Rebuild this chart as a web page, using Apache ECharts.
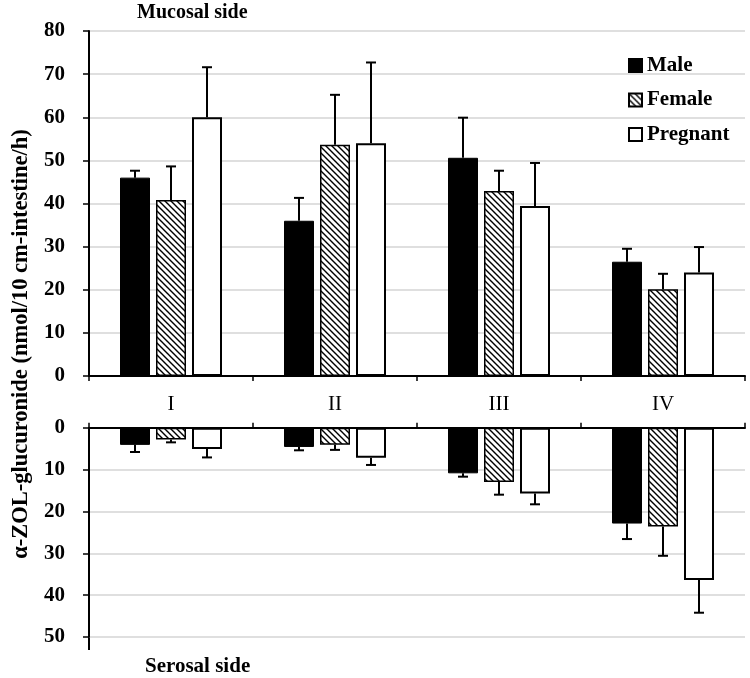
<!DOCTYPE html>
<html><head><meta charset="utf-8">
<script src="https://cdn.jsdelivr.net/npm/echarts@6/dist/echarts.min.js"></script>
<style>html,body{margin:0;padding:0;background:#fff;}#c{width:750px;height:678px;}</style>
</head><body><div id="c"></div>
<script>
const categories = ['I', 'II', 'III', 'IV'];
const seriesNames = ['Male', 'Female', 'Pregnant'];
// Mucosal side (upper panel): means and SD
const mucosalMale = [46.0, 36.0, 50.6, 26.5];
const mucosalMaleSD = [1.6, 5.3, 9.3, 3.0];
const mucosalFemale = [40.8, 53.6, 42.9, 20.1];
const mucosalFemaleSD = [7.8, 11.6, 4.7, 3.6];
const mucosalPregnant = [60.0, 54.0, 39.4, 24.0];
const mucosalPregnantSD = [11.6, 18.7, 10.0, 5.9];
// Serosal side (lower panel): means and SD
const serosalMale = [4.1, 4.6, 10.9, 22.9];
const serosalMaleSD = [1.7, 0.8, 0.8, 3.7];
const serosalFemale = [2.8, 4.1, 13.0, 23.6];
const serosalFemaleSD = [0.7, 1.2, 3.0, 7.0];
const serosalPregnant = [5.1, 7.2, 15.7, 36.4];
const serosalPregnantSD = [2.0, 1.7, 2.6, 7.8];
const mucosalTicks = [0, 10, 20, 30, 40, 50, 60, 70, 80];
const serosalTicks = [0, 10, 20, 30, 40, 50];

const FONT = '"Liberation Serif", "DejaVu Serif", serif';

function hatch() {
  const s = 6;
  const c = document.createElement('canvas');
  c.width = s; c.height = s;
  const g = c.getContext('2d');
  g.fillStyle = '#fff'; g.fillRect(0, 0, s, s);
  g.strokeStyle = '#000'; g.lineWidth = 1.4;
  g.beginPath();
  g.moveTo(-1, -1); g.lineTo(s + 1, s + 1);
  g.moveTo(-1, s - 1); g.lineTo(1, s + 1);
  g.moveTo(s - 1, -1); g.lineTo(s + 1, 1);
  g.stroke();
  return c;
}
const hatchPattern = { image: hatch(), repeat: 'repeat' };

const styles = [
  { color: '#000', borderColor: '#000', borderWidth: 1 },
  { color: hatchPattern, borderColor: '#000', borderWidth: 1.5 },
  { color: '#fff', borderColor: '#000', borderWidth: 2 }
];

const BAR_W = 30, STEP = 36;

function barSeries(name, idx, data, grid) {
  return {
    name: grid === 0 ? name : undefined,
    type: 'bar', xAxisIndex: grid, yAxisIndex: grid,
    data: data, barWidth: BAR_W, barGap: '20%',
    itemStyle: styles[idx], z: 2, animation: false
  };
}
function errSeries(idx, means, sds, grid) {
  return {
    type: 'custom', xAxisIndex: grid, yAxisIndex: grid, z: 3, animation: false,
    data: means.map((m, i) => [i, m, m + sds[i]]),
    renderItem: function (params, api) {
      const base = api.coord([api.value(0), api.value(1)]);
      const top = api.coord([api.value(0), api.value(2)]);
      const x = base[0] + (idx - 1) * STEP;
      const hw = 5;
      return {
        type: 'group',
        children: [
          { type: 'line', shape: { x1: x, y1: base[1], x2: x, y2: top[1] }, style: { stroke: '#000', lineWidth: 2 } },
          { type: 'line', shape: { x1: x - hw, y1: top[1], x2: x + hw, y2: top[1] }, style: { stroke: '#000', lineWidth: 2 } }
        ]
      };
    }
  };
}

const chart = echarts.init(document.getElementById('c'), null, { renderer: 'canvas' });
const axisLabelY = { fontFamily: FONT, fontWeight: 'bold', fontSize: 21, color: '#000', margin: 24 };
chart.setOption({
  backgroundColor: '#fff',
  animation: false,
  grid: [
    { left: 89, right: 5, top: 31, height: 345 },
    { left: 89, right: 5, top: 427.7, height: 209.3 }
  ],
  legend: {
    data: seriesNames, orient: 'vertical', left: 623, top: 50,
    itemWidth: 13, itemHeight: 13, itemGap: 13.5,
    textStyle: { fontFamily: FONT, fontWeight: 'bold', fontSize: 21, color: '#000', padding: [0, 0, 0, 0] },
    icon: 'rect'
  },
  xAxis: [
    { type: 'category', gridIndex: 0, data: categories, position: 'bottom',
      axisLine: { lineStyle: { color: '#000', width: 2 } },
      axisTick: { show: true, length: 5, lineStyle: { color: '#000', width: 1.5 } },
      axisLabel: { show: false }, splitLine: { show: false } },
    { type: 'category', gridIndex: 1, data: categories, position: 'top',
      axisLine: { lineStyle: { color: '#000', width: 2 } },
      axisTick: { show: true, length: 5, lineStyle: { color: '#000', width: 1.5 } },
      axisLabel: { fontFamily: FONT, fontSize: 21, color: '#000', margin: 13 }, splitLine: { show: false } }
  ],
  yAxis: [
    { type: 'value', gridIndex: 0, min: mucosalTicks[0], max: mucosalTicks[mucosalTicks.length - 1], interval: 10,
      axisLine: { show: true, lineStyle: { color: '#000', width: 2 } },
      axisTick: { show: true, length: 6, lineStyle: { color: '#000', width: 1.5 } },
      axisLabel: axisLabelY,
      splitLine: { lineStyle: { color: '#d4d4d4', width: 1.5 } } },
    { type: 'value', gridIndex: 1, inverse: true, min: serosalTicks[0], max: serosalTicks[serosalTicks.length - 1], interval: 10,
      axisLine: { show: true, lineStyle: { color: '#000', width: 2 } },
      axisTick: { show: true, length: 6, lineStyle: { color: '#000', width: 1.5 } },
      axisLabel: axisLabelY,
      splitLine: { lineStyle: { color: '#d4d4d4', width: 1.5 } } }
  ],
  graphic: [
    { type: 'text', x: 137, y: 13, style: { text: 'Mucosal side', fontFamily: FONT, fontWeight: 'bold', fontSize: 20, fill: '#000', verticalAlign: 'middle' } },
    { type: 'text', x: 145, y: 667, style: { text: 'Serosal side', fontFamily: FONT, fontWeight: 'bold', fontSize: 21, fill: '#000', verticalAlign: 'middle' } },
    { type: 'text', x: 21, y: 344, rotation: Math.PI / 2,
      style: { text: 'α-ZOL-glucuronide (nmol/10 cm-intestine/h)', fontFamily: FONT, fontWeight: 'bold', fontSize: 22.5, fill: '#000', align: 'center', verticalAlign: 'middle' } },
    { type: 'line', shape: { x1: 89, y1: 637, x2: 89, y2: 650 }, style: { stroke: '#000', lineWidth: 2 } }
  ],
  series: [
    barSeries('Male', 0, mucosalMale, 0),
    barSeries('Female', 1, mucosalFemale, 0),
    barSeries('Pregnant', 2, mucosalPregnant, 0),
    errSeries(0, mucosalMale, mucosalMaleSD, 0),
    errSeries(1, mucosalFemale, mucosalFemaleSD, 0),
    errSeries(2, mucosalPregnant, mucosalPregnantSD, 0),
    barSeries('Male', 0, serosalMale, 1),
    barSeries('Female', 1, serosalFemale, 1),
    barSeries('Pregnant', 2, serosalPregnant, 1),
    errSeries(0, serosalMale, serosalMaleSD, 1),
    errSeries(1, serosalFemale, serosalFemaleSD, 1),
    errSeries(2, serosalPregnant, serosalPregnantSD, 1)
  ]
});
</script></body></html>
